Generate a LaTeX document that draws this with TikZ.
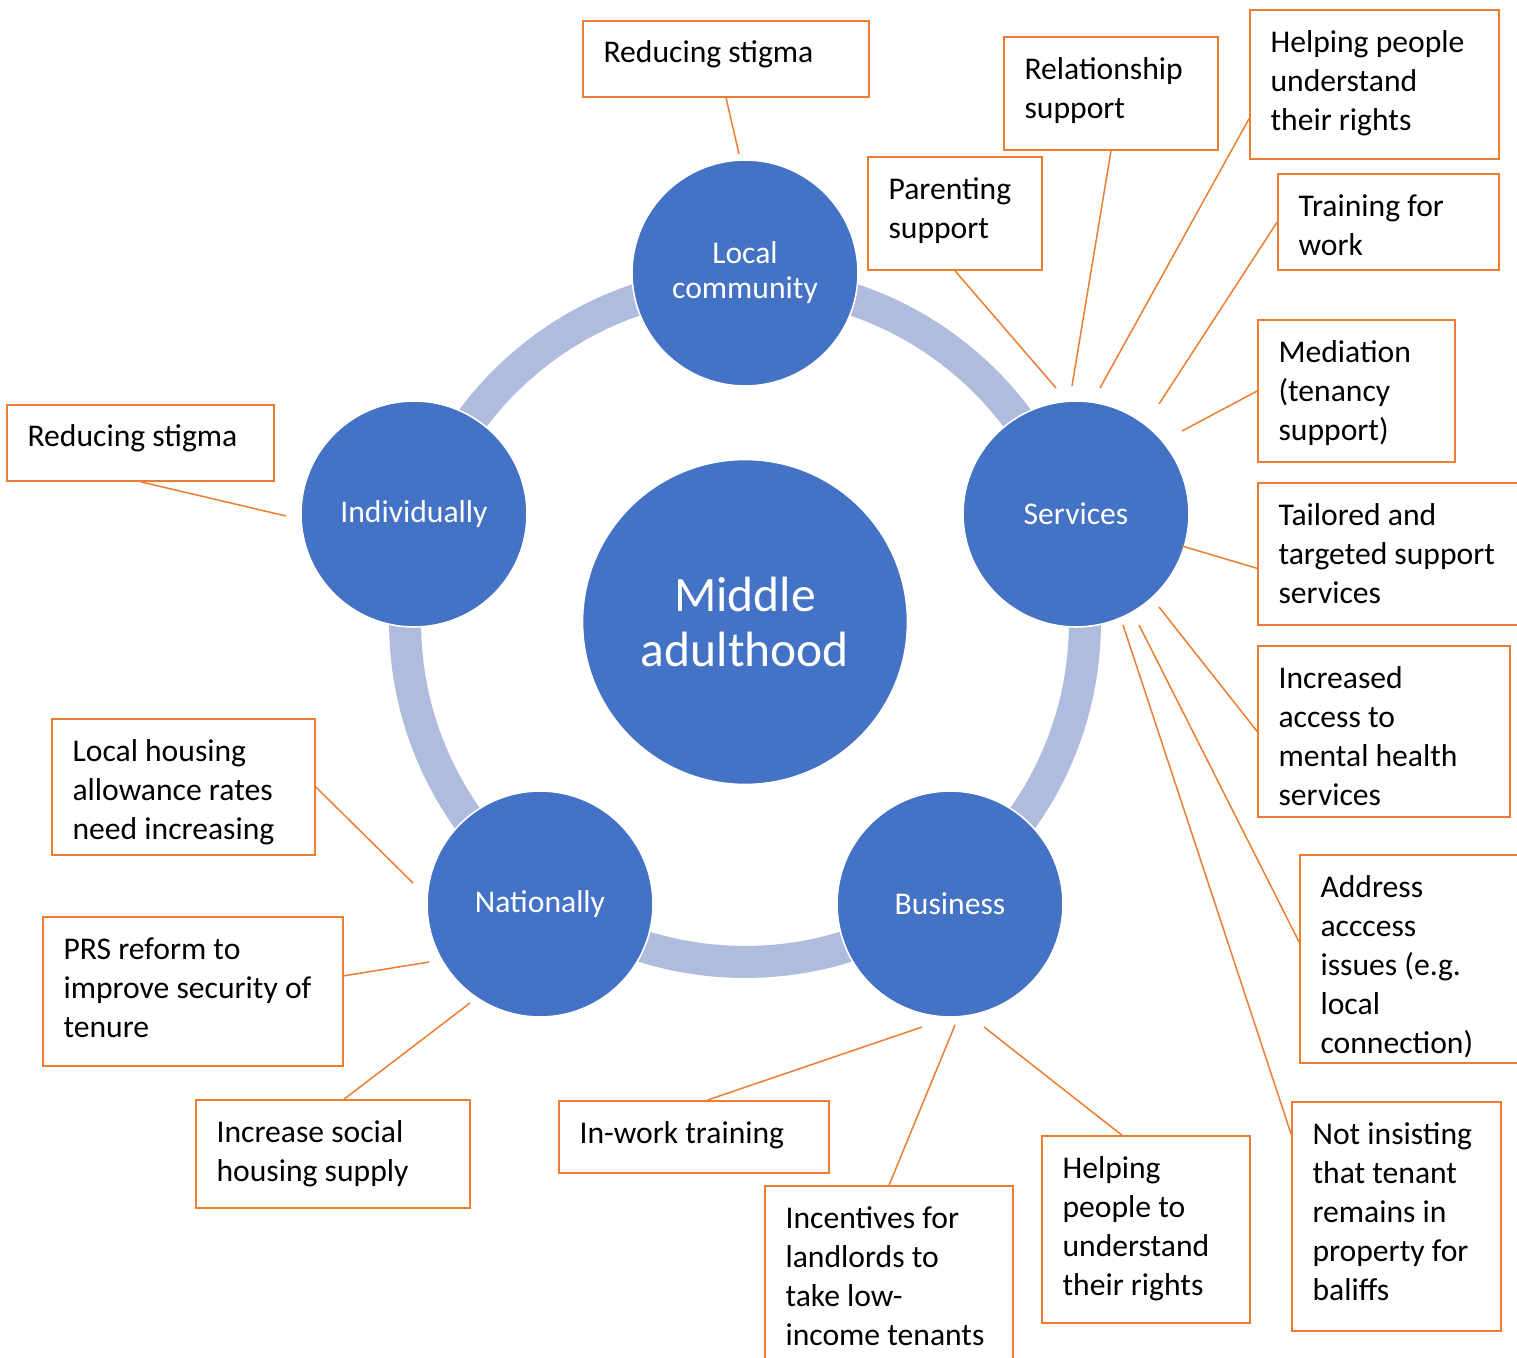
\documentclass[tikz,border=0pt]{standalone}
\usepackage{fontspec}
\setmainfont{Carlito}
\usetikzlibrary{fit,calc}
\definecolor{cblue}{HTML}{4472C4}
\definecolor{cring}{HTML}{AFBCDE}
\definecolor{corange}{HTML}{ED7D31}
\begin{document}
\begin{tikzpicture}[x=0.02cm,y=-0.02cm,
  bigc/.style={circle, fill=cblue, draw=white, line width=0.9pt, inner sep=0pt, text=white, align=center},
  smallc/.style={bigc, minimum size=4.52cm, font=\fontsize{18}{19.9}\selectfont},
  boxx/.style={draw=corange, line width=0.9pt, inner sep=0pt},
  txt/.style={anchor=north west, inner sep=0pt, align=left, font=\fontsize{18}{22.2}\selectfont, execute at begin node=\strut},
  link/.style={draw=corange, line width=0.85pt}]
\useasboundingbox (0,0) rectangle (1517,1358);
\fill[white] (0,0) rectangle (1517,1358);
\clip (0,0) rectangle (1517,1358);

% ring
\draw[cring, line width=0.64cm] (745,622) circle[radius=6.8cm];

% circles
\node[bigc, minimum size=6.5cm, font=\fontsize{28.2}{31.8}\selectfont] (mid) at (745,622) {Middle\\adulthood};
\node[smallc] (lc) at (745,273) {Local\\community};
\node[smallc] (ind) at (414,514) {Individually};
\node[smallc] (srv) at (1076,514) {Services};
\node[smallc] (nat) at (540,904) {Nationally};
\node[smallc] (bus) at (950,904) {Business};

% boxes
\node[boxx, fit={(583,21) (869,97)}] (b1) {};
\node[txt] (t1) at ($(b1.north west)+(21,15)$) {Reducing stigma};
\node[boxx, fit={(1004,37) (1218,150)}] (b2) {};
\node[txt] (t2) at ($(b2.north west)+(21,21)$) {Relationship\\support};
\node[boxx, fit={(1250,10) (1499,159)}] (b3) {};
\node[txt] (t3) at ($(b3.north west)+(21,21)$) {Helping people\\understand\\their rights};
\node[boxx, fit={(868,157) (1042,270)}] (b4) {};
\node[txt] (t4) at ($(b4.north west)+(21,21)$) {Parenting\\support};
\node[boxx, fit={(1278,174) (1499,270)}] (b5) {};
\node[txt] (t5) at ($(b5.north west)+(21,21)$) {Training for\\work};
\node[boxx, fit={(1258,320) (1455,462)}] (b6) {};
\node[txt] (t6) at ($(b6.north west)+(21,21)$) {Mediation\\(tenancy\\support)};
\node[boxx, fit={(1258,483) (1535,625)}] (b7) {};
\node[txt] (t7) at ($(b7.north west)+(21,21)$) {Tailored and\\targeted support\\services};
\node[boxx, fit={(1258,646) (1510,817)}] (b8) {};
\node[txt] (t8) at ($(b8.north west)+(21,21)$) {Increased\\access to\\mental health\\services};
\node[boxx, fit={(1300,855) (1535,1063)}] (b9) {};
\node[txt] (t9) at ($(b9.north west)+(21,21)$) {Address\\acccess\\issues (e.g.\\local\\connection)};
\node[boxx, fit={(1292,1102) (1501,1331)}] (b10) {};
\node[txt] (t10) at ($(b10.north west)+(21,21)$) {Not insisting\\that tenant\\remains in\\property for\\baliffs};
\node[boxx, fit={(1042,1136) (1250,1323)}] (b11) {};
\node[txt] (t11) at ($(b11.north west)+(21,21)$) {Helping\\people to\\understand\\their rights};
\node[boxx, fit={(765,1186) (1013,1375)}] (b12) {};
\node[txt] (t12) at ($(b12.north west)+(21,21)$) {Incentives for\\landlords to\\take low-\\income tenants};
\node[boxx, fit={(559,1101) (829,1173)}] (b13) {};
\node[txt] (t13) at ($(b13.north west)+(21,16)$) {In-work training};
\node[boxx, fit={(196,1100) (470,1208)}] (b14) {};
\node[txt] (t14) at ($(b14.north west)+(21,21)$) {Increase social\\housing supply};
\node[boxx, fit={(43,917) (343,1066)}] (b15) {};
\node[txt] (t15) at ($(b15.north west)+(21,21)$) {PRS reform to\\improve security of\\tenure};
\node[boxx, fit={(52,719) (315,855)}] (b16) {};
\node[txt] (t16) at ($(b16.north west)+(21,21)$) {Local housing\\allowance rates\\need increasing};
\node[boxx, fit={(7,405) (274,481)}] (b17) {};
\node[txt] (t17) at ($(b17.north west)+(21,15)$) {Reducing stigma};

% free ends near circles
\coordinate (e1) at (739,154);
\coordinate (e2) at (1072,386);
\coordinate (e3) at (1100,388);
\coordinate (e4) at (1056,388);
\coordinate (e5) at (1159,404);
\coordinate (e6) at (1182,431);
\coordinate (e7) at (1182,546);
\coordinate (e8) at (1159,607);
\coordinate (e9) at (1139,625);
\coordinate (e10) at (1123,625);
\coordinate (e11) at (984,1027);
\coordinate (e12) at (955,1025);
\coordinate (e13) at (922,1027);
\coordinate (e14) at (470,1003);
\coordinate (e15) at (429,962);
\coordinate (e16) at (413,883);
\coordinate (e17) at (286,516);

% connectors
\draw[link] (b1.south) -- (e1);
\draw[link] (b2.south) -- (e2);
\draw[link] ($(b3.north west)!0.725!(b3.south west)$) -- (e3);
\draw[link] (b4.south) -- (e4);
\draw[link] (b5.west) -- (e5);
\draw[link] (b6.west) -- (e6);
\draw[link] ($(b7.north west)!0.6!(b7.south west)$) -- (e7);
\draw[link] (b8.west) -- (e8);
\draw[link] ($(b9.north west)!0.42!(b9.south west)$) -- (e9);
\draw[link] ($(b10.north west)!0.144!(b10.south west)$) -- (e10);
\draw[link] ($(b11.north west)!0.385!(b11.north east)$) -- (e11);
\draw[link] (b12.north) -- (e12);
\draw[link] ($(b13.north west)!0.548!(b13.north east)$) -- (e13);
\draw[link] ($(b14.north west)!0.54!(b14.north east)$) -- (e14);
\draw[link] ($(b15.north east)!0.396!(b15.south east)$) -- (e15);
\draw[link] (b16.east) -- (e16);
\draw[link] (b17.south) -- (e17);
\end{tikzpicture}
\end{document}
